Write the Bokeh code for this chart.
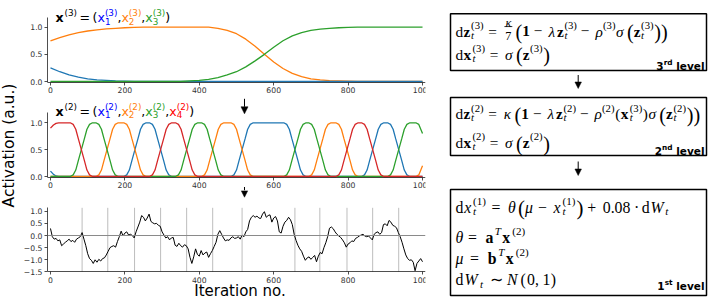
import math
from bokeh.plotting import figure
from bokeh.models import Range1d, Label, Arrow, NormalHead, Span, FixedTicker
from bokeh.layouts import row, column
from bokeh.embed import file_html
from bokeh.resources import INLINE

# ---------------- data ----------------
iterations_top = list(range(0, 1001, 25))
x3_1 = [0.25, 0.18, 0.12, 0.08, 0.05, 0.03, 0.02, 0.01, 0.005,
        0, 0, 0, 0, 0, 0, 0, 0, 0, 0, 0, 0, 0, 0, 0, 0,
        0, 0, 0, 0, 0, 0, 0, 0, 0, 0, 0, 0, 0, 0, 0, 0]
x3_2 = [0.75, 0.81, 0.86, 0.90, 0.93, 0.95, 0.97, 0.98, 0.99, 0.995,
        1, 1, 1, 1, 1, 1, 1, 1,
        0.98, 0.94, 0.88, 0.78, 0.65, 0.50, 0.36, 0.24, 0.15, 0.09, 0.05, 0.03, 0.015, 0.01, 0.005,
        0, 0, 0, 0, 0, 0, 0, 0]
x3_3 = [0, 0, 0, 0, 0, 0, 0, 0, 0, 0, 0, 0, 0, 0, 0,
        0.01, 0.02, 0.04, 0.07, 0.12, 0.18, 0.27, 0.38, 0.50, 0.63, 0.75, 0.84, 0.90, 0.94, 0.965, 0.98, 0.99, 0.995,
        1, 1, 1, 1, 1, 1, 1, 1]

blue_x = [0, 8, 15, 22,
          197, 205, 212, 219, 227, 235, 242, 249, 257, 266, 274, 281, 288, 296, 304, 311, 318, 326,
          485, 493, 500, 507, 515, 523, 530, 537, 545, 627, 635, 642, 649, 657, 665, 672, 679, 687,
          836, 844, 851, 858, 866, 874, 881, 888, 896, 906, 914, 921, 928, 936, 944, 951, 958, 966,
          1000]
blue_y = [0.1, 0.04, 0.01, 0.0,
          0.0, 0.03, 0.12, 0.3, 0.5, 0.7, 0.88, 0.97, 1.0, 1.0, 0.97, 0.88, 0.7, 0.5, 0.3, 0.12, 0.03, 0.0,
          0.0, 0.03, 0.12, 0.3, 0.5, 0.7, 0.88, 0.97, 1.0, 1.0, 0.97, 0.88, 0.7, 0.5, 0.3, 0.12, 0.03, 0.0,
          0.0, 0.03, 0.12, 0.3, 0.5, 0.7, 0.88, 0.97, 1.0, 1.0, 0.97, 0.88, 0.7, 0.5, 0.3, 0.12, 0.03, 0.0,
          0.0]
orange_x = [0, 122, 130, 137, 144, 152, 160, 167, 174, 182, 197, 205, 212, 219, 227, 235, 242, 249, 257,
            406, 414, 421, 428, 436, 444, 451, 458, 466, 485, 493, 500, 507, 515, 523, 530, 537, 545,
            694, 702, 709, 716, 724, 732, 739, 746, 754, 767, 775, 782, 789, 797, 805, 812, 819, 827,
            982, 990, 1000]
orange_y = [0.0, 0.0, 0.03, 0.12, 0.3, 0.5, 0.7, 0.88, 0.97, 1.0, 1.0, 0.97, 0.88, 0.7, 0.5, 0.3, 0.12, 0.03, 0.0,
            0.0, 0.03, 0.12, 0.3, 0.5, 0.7, 0.88, 0.97, 1.0, 1.0, 0.97, 0.88, 0.7, 0.5, 0.3, 0.12, 0.03, 0.0,
            0.0, 0.03, 0.12, 0.3, 0.5, 0.7, 0.88, 0.97, 1.0, 1.0, 0.97, 0.88, 0.7, 0.5, 0.3, 0.12, 0.03, 0.0,
            0.0, 0.03, 0.2]
green_x = [0, 53, 61, 68, 75, 83, 91, 98, 105, 113, 122, 130, 137, 144, 152, 160, 167, 174, 182,
           336, 344, 351, 358, 366, 374, 381, 388, 396, 406, 414, 421, 428, 436, 444, 451, 458, 466,
           627, 635, 642, 649, 657, 665, 672, 679, 687, 694, 702, 709, 716, 724, 732, 739, 746, 754,
           906, 914, 921, 928, 936, 944, 951, 958, 966, 982, 990, 1000]
green_y = [0.0, 0.0, 0.03, 0.12, 0.3, 0.5, 0.7, 0.88, 0.97, 1.0, 1.0, 0.97, 0.88, 0.7, 0.5, 0.3, 0.12, 0.03, 0.0,
           0.0, 0.03, 0.12, 0.3, 0.5, 0.7, 0.88, 0.97, 1.0, 1.0, 0.97, 0.88, 0.7, 0.5, 0.3, 0.12, 0.03, 0.0,
           0.0, 0.03, 0.12, 0.3, 0.5, 0.7, 0.88, 0.97, 1.0, 1.0, 0.97, 0.88, 0.7, 0.5, 0.3, 0.12, 0.03, 0.0,
           0.0, 0.03, 0.12, 0.3, 0.5, 0.7, 0.88, 0.97, 1.0, 1.0, 0.97, 0.8]
red_x = [0, 8, 15, 22, 53, 61, 68, 75, 83, 91, 98, 105, 113,
         266, 274, 281, 288, 296, 304, 311, 318, 326, 336, 344, 351, 358, 366, 374, 381, 388, 396,
         767, 775, 782, 789, 797, 805, 812, 819, 827, 836, 844, 851, 858, 866, 874, 881, 888, 896,
         1000]
red_y = [0.9, 0.96, 0.99, 1.0, 1.0, 0.97, 0.88, 0.7, 0.5, 0.3, 0.12, 0.03, 0.0,
         0.0, 0.03, 0.12, 0.3, 0.5, 0.7, 0.88, 0.97, 1.0, 1.0, 0.97, 0.88, 0.7, 0.5, 0.3, 0.12, 0.03, 0.0,
         0.0, 0.03, 0.12, 0.3, 0.5, 0.7, 0.88, 0.97, 1.0, 1.0, 0.97, 0.88, 0.7, 0.5, 0.3, 0.12, 0.03, 0.0,
         0.0]

iterations_walk = list(range(0, 1001, 5))
walk = [
    0.29, -0.05, -0.15, -0.12, -0.22, -0.18, -0.42, -0.35, -0.28, -0.22,
    -0.15, -0.25, -0.20, -0.28, -0.15, -0.10, -0.05, 0.12, -0.15, -0.42,
    -0.75, -0.95, -1.02, -1.15, -1.00, -1.10, -0.98, -1.05, -0.95, -0.92,
    -0.80, -0.65, -0.50, -0.45, -0.42, -0.48, -0.25, -0.05, 0.18, -0.02,
    0.10, 0.15, 0.02, 0.05, 0.00, -0.10, 0.15, 0.35, 0.55, 0.82,
    0.75, 0.60, 0.72, 0.88, 0.58, 0.52, 0.48, 0.50, 0.42, 0.38,
    0.15, 0.02, -0.10, -0.05, -0.18, -0.10, -0.08, -0.40, -0.45, -0.32,
    -0.42, -0.48, -0.38, -0.42, -0.55, -0.90, -1.15, -0.88, -0.55, -0.78,
    -0.85, -0.62, -0.80, -0.72, -0.68, -0.90, -0.75, -0.62, -0.45, -0.28,
    0.05, 0.20, 0.05, -0.10, -0.22, -0.18, -0.20, -0.10, -0.05, -0.12,
    -0.10, -0.05, -0.15, 0.02, -0.05, 0.15, 0.25, 0.60, 0.75, 0.82,
    0.75, 0.80, 0.72, 0.70, 0.88, 0.98, 0.75, 0.82, 0.85, 0.55,
    0.72, 0.78, 0.60, 0.15, 0.10, 0.38, 0.55, 0.62, 0.75, 0.65,
    0.45, 0.05, -0.20, -0.40, -0.55, -0.65, -0.85, -1.02, -0.92, -0.88,
    -0.98, -0.90, -0.82, -1.08, -0.85, -0.70, -0.75, -0.50, -0.30, -0.05,
    0.30, 0.35, 0.28, 0.15, 0.05, -0.02, -0.08, -0.18, -0.30, -0.48,
    -0.35, -0.30, -0.22, -0.25, -0.12, -0.08, -0.02, 0.02, 0.05, -0.02,
    -0.05, -0.02, -0.10, -0.18, 0.05, 0.12, 0.15, 0.05, 0.12, 0.45,
    0.48, 0.40, 0.62, 0.55, 0.42, 0.38, 0.32, 0.12, -0.05, -0.28,
    -0.55, -0.80, -0.95, -1.02, -1.00, -1.10, -1.45, -1.15, -1.05, -0.95,
    -1.08]
switch_iters = [85, 154, 226, 296, 366, 436, 515, 657, 724, 797, 866, 936]

x_ticks = [0, 200, 400, 600, 800, 1000]
y_ticks_act = [0.0, 0.5, 1.0]
y_labels_act = ["0.0", "0.5", "1.0"]
y_ticks_walk = [-1.5, -1.0, -0.5, 0.0, 0.5, 1.0]
y_labels_walk = ["\u22121.5", "\u22121.0", "\u22120.5", "0.0", "0.5", "1.0"]

assert len(x3_1) == len(x3_2) == len(x3_3) == len(iterations_top)
assert len(blue_x) == len(blue_y) and len(orange_x) == len(orange_y)
assert len(green_x) == len(green_y) and len(red_x) == len(red_y)
assert len(walk) == len(iterations_walk)

TAB_BLUE, TAB_ORANGE, TAB_GREEN, TAB_RED = "#1f77b4", "#ff7f0e", "#2ca02c", "#d62728"
T_BLUE, T_ORANGE, T_GREEN, T_RED = "#0000ff", "#ff7f0e", "#2ca02c", "#ff0000"

SANS = "DejaVu Sans"
SERIF = "Liberation Serif"


# ---------------- small typesetting helpers ----------------
def T(txt, adv, style="normal", color="black", scale=1.0, dy=0.0):
    return ("t", txt, adv, style, color, scale, dy)


def S(sup=None, sub=None, adv=0.9, color="black", sup_style="normal", sub_style="italic"):
    return ("s", sup, sub, adv, color, sup_style, sub_style)


def SP(em):
    return ("sp", em)


def F(num, den, adv):
    return ("f", num, den, adv)


BL = T("(", 0.46, scale=1.32, dy=-0.09)
BR = T(")", 0.46, scale=1.32, dy=-0.09)


def lab(fig, x, y, txt, size, font, style="normal", color="black", align="left",
        units="data", angle=0.0, baseline="alphabetic"):
    fig.add_layout(Label(x=x, y=y, x_units=units, y_units=units, text=txt,
                         text_font=font, text_font_size="%.2fpx" % size,
                         text_font_style=style, text_color=color,
                         text_align=align, text_baseline=baseline, angle=angle))


def typeset(fig, toks, x0, y0, s_adv, s_font, font, up, units, sup_dy, sub_dy, bars=None):
    x = x0
    for tk in toks:
        kind = tk[0]
        if kind == "sp":
            x += tk[1] * s_adv
        elif kind == "t":
            _, txt, adv, style, color, scale, dy = tk
            lab(fig, x, y0 + up * dy * s_font, txt, s_font * scale, font, style, color, units=units)
            x += adv * s_adv
        elif kind == "s":
            _, sup, sub, adv, color, sst, bst = tk
            if sup:
                lab(fig, x, y0 + up * sup_dy * s_font, sup, 0.7 * s_font, font, sst, color, units=units)
            if sub:
                lab(fig, x, y0 - up * sub_dy * s_font, sub, 0.7 * s_font, font, bst, color, units=units)
            x += adv * s_adv
        elif kind == "f":
            _, num, den, adv = tk
            cx = x + adv * s_adv / 2
            lab(fig, cx, y0 + up * 0.51 * s_font, num, 0.8 * s_font, font, "italic", align="center", units=units)
            lab(fig, cx, y0 - up * 0.30 * s_font, den, 0.8 * s_font, font, "normal", align="center", units=units)
            if bars is not None:
                bars.append((x + 0.05 * s_adv, x + (adv - 0.05) * s_adv, y0 + up * 0.29 * s_font))
            x += adv * s_adv
    return x


# ---------------- left panels ----------------
# each panel's frame fills its whole height; the axes are pinned to the data limits
XR = (-8, 1008)


def panel(h, yr_full, y_bounds, yticks, ylabels):
    p = figure(width=420, height=h, x_range=Range1d(*XR), y_range=Range1d(*yr_full),
               output_backend="svg", toolbar_location=None,
               min_border_left=27, min_border_right=15, min_border_top=0, min_border_bottom=0)
    p.outline_line_color = None
    p.grid.visible = False
    p.background_fill_color = "white"
    p.border_fill_color = "white"
    p.xaxis.ticker = FixedTicker(ticks=x_ticks)
    p.yaxis.ticker = FixedTicker(ticks=yticks)
    p.yaxis.major_label_overrides = {t: l for t, l in zip(yticks, ylabels)}
    p.xaxis.fixed_location = y_bounds[0]
    p.yaxis.bounds = y_bounds
    for ax in (p.xaxis[0], p.yaxis[0]):
        ax.axis_line_color = "#222222"
        ax.axis_line_width = 0.8
        ax.major_tick_line_color = "#222222"
        ax.major_tick_line_width = 0.8
        ax.major_tick_out = 3
        ax.major_tick_in = 0
        ax.minor_tick_line_color = None
        ax.major_label_text_font = SANS
        ax.major_label_text_font_size = "7.7px"
        ax.major_label_text_color = "#333333"
        ax.major_label_standoff = 2
    return p


Y1 = (-0.01, 1.17)
Y2 = (-0.01, 1.2)
Y3 = (-1.5, 1.14)
f1 = panel(96, (-0.2762, 1.4917), Y1, y_ticks_act, y_labels_act)
f2 = panel(94, (-0.2607, 1.4898), Y2, y_ticks_act, y_labels_act)
f3 = panel(109, (-2.6337, 1.8519), Y3, y_ticks_walk, y_labels_walk)

LW = 1.3
f1.line(iterations_top, x3_2, line_color=TAB_ORANGE, line_width=LW)
f1.line(iterations_top, x3_1, line_color=TAB_BLUE, line_width=LW)
f1.line(iterations_top, x3_3, line_color=TAB_GREEN, line_width=LW)

f2.line(blue_x, blue_y, line_color=TAB_BLUE, line_width=LW)
f2.line(orange_x, orange_y, line_color=TAB_ORANGE, line_width=LW)
f2.line(green_x, green_y, line_color=TAB_GREEN, line_width=LW)
f2.line(red_x, red_y, line_color=TAB_RED, line_width=LW)

f3.segment(x0=switch_iters, x1=switch_iters, y0=Y3[0], y1=Y3[1], line_color="#bdbdbd", line_width=1)
f3.add_layout(Span(location=0, dimension="width", line_color="#8a8a8a", line_width=1))
f3.line(iterations_walk, walk, line_color="black", line_width=1)


# titles of the two upper panels
def comp(color, idx, lvl):
    return [T("x", 0.592, color=color),
            S("(%d)" % lvl, str(idx), 0.99, color=color, sub_style="normal")]


title3 = ([T("x", 0.712, "bold"), S("(3)", None, 0.99), SP(0.2), T("=", 0.838), SP(0.2), T("(", 0.39)]
          + comp(T_BLUE, 1, 3) + [T(",", 0.318)] + comp(T_ORANGE, 2, 3) + [T(",", 0.318)]
          + comp(T_GREEN, 3, 3) + [T(")", 0.39)])
title2 = ([T("x", 0.712, "bold"), S("(2)", None, 0.99), SP(0.2), T("=", 0.838), SP(0.2), T("(", 0.39)]
          + comp(T_BLUE, 1, 2) + [T(",", 0.318)] + comp(T_ORANGE, 2, 2) + [T(",", 0.318)]
          + comp(T_GREEN, 3, 2) + [T(",", 0.318)] + comp(T_RED, 4, 2) + [T(")", 0.39)])
typeset(f1, title3, 8, 78.7, 12.6, 12.6, SANS, 1, "screen", 0.36, 0.27)
typeset(f2, title2, 8, 79.3, 12.6, 12.6, SANS, 1, "screen", 0.36, 0.27)

# down arrows between the panels
ARX = 521.5
HEAD = dict(fill_color="black", line_color="black", line_width=0.5)
f2.add_layout(Arrow(x_start=ARX, y_start=1.447, x_end=ARX, y_end=1.1676,
                    end=NormalHead(size=7, **HEAD), line_color="black", line_width=1))
f2.add_layout(Arrow(x_start=ARX, y_start=-0.1955, x_end=ARX, y_end=-0.2793, end=None,
                    line_color="black", line_width=1))
f3.add_layout(Arrow(x_start=ARX, y_start=1.893, x_end=ARX, y_end=1.576,
                    end=NormalHead(size=6.5, **HEAD), line_color="black", line_width=1))

lab(f3, 192.5, 9.0, "Iteration no.", 15.0, SANS, units="screen", align="center")

# y label strip
lf = figure(width=20, height=299, x_range=Range1d(0, 1), y_range=Range1d(0, 1),
            output_backend="svg", toolbar_location=None, min_border=0,
            x_axis_location=None, y_axis_location=None)
lf.outline_line_color = None
lf.grid.visible = False
lab(lf, 8, 154, "Activation (a.u.)", 15.5, SANS, units="screen", angle=math.pi / 2,
    align="center", baseline="middle")

# ---------------- right panel: model equations ----------------
pr = figure(width=268, height=299, x_range=Range1d(0, 268), y_range=Range1d(299, 0),
            output_backend="svg", toolbar_location=None, min_border=0,
            x_axis_location=None, y_axis_location=None)
pr.outline_line_color = None
pr.grid.visible = False

BOX_L, BOX_R = 10.0, 266.0
box_top = [13.3, 97.0, 189.0]
box_bot = [70.0, 155.0, 295.0]
pr.quad(left=BOX_L, right=BOX_R, top=box_top, bottom=box_bot,
        fill_color=None, line_color="black", line_width=1.5)
for (ya, yb) in [(74.5, 88.0), (161.0, 175.0)]:
    pr.add_layout(Arrow(x_start=137.7, y_start=ya, x_end=137.7, y_end=yb,
                        end=NormalHead(size=6.5, **HEAD), line_color="black", line_width=1))

MINUS = [SP(0.222), T("\u2212", 0.778), SP(0.222)]
EQ = [SP(0.278), T("=", 0.778), SP(0.278)]
b1l1 = ([T("d", 0.556), T("z", 0.511, "bold"), S("(3)", "t")] + EQ + [F("\u03ba", "7", 0.64), SP(0.17), BL,
        T("1", 0.575, "bold")] + MINUS + [T("\u03bb", 0.583, "italic"), T("z", 0.511, "bold"), S("(3)", "t")]
        + MINUS + [T("\u03c1", 0.517, "italic"), S("(3)"), T("\u03c3", 0.571, "italic"), SP(0.17), BL,
        T("z", 0.511, "bold"), S("(3)", "t"), BR, BR])
b1l2 = ([T("d", 0.556), T("x", 0.607, "bold"), S("(3)", "t")] + EQ +
        [T("\u03c3", 0.571, "italic"), SP(0.17), BL, T("z", 0.511, "bold"), S("(3)"), BR])
b2l1 = ([T("d", 0.556), T("z", 0.511, "bold"), S("(2)", "t")] + EQ + [T("\u03ba", 0.576, "italic"), SP(0.17), BL,
        T("1", 0.575, "bold")] + MINUS + [T("\u03bb", 0.583, "italic"), T("z", 0.511, "bold"), S("(2)", "t")]
        + MINUS + [T("\u03c1", 0.517, "italic"), S("(2)"), T("(", 0.389), T("x", 0.607, "bold"), S("(3)", "t"),
        T(")", 0.389), T("\u03c3", 0.571, "italic"), SP(0.17), BL, T("z", 0.511, "bold"), S("(2)", "t"), BR, BR])
b2l2 = ([T("d", 0.556), T("x", 0.607, "bold"), S("(2)", "t")] + EQ +
        [T("\u03c3", 0.571, "italic"), SP(0.17), BL, T("z", 0.511, "bold"), S("(2)"), BR])
b3l1 = ([T("d", 0.556), T("x", 0.572, "italic"), S("(1)", "t")] + EQ + [T("\u03b8", 0.469, "italic"), SP(0.17), BL,
        T("\u03bc", 0.603, "italic")] + MINUS + [T("x", 0.572, "italic"), S("(1)", "t"), BR, SP(0.222),
        T("+", 0.778), SP(0.222), T("0.08", 1.778), SP(0.222), T("\u00b7", 0.278), SP(0.222),
        T("d", 0.556), T("W", 0.944, "italic"), S(None, "t", 0.3)])
b3l2 = ([T("\u03b8", 0.469, "italic")] + EQ + [T("a", 0.559, "bold"), S("T", None, 0.45, sup_style="italic"),
        T("x", 0.607, "bold"), S("(2)")])
b3l3 = ([T("\u03bc", 0.603, "italic")] + EQ + [T("b", 0.639, "bold"), S("T", None, 0.45, sup_style="italic"),
        T("x", 0.607, "bold"), S("(2)")])
b3l4 = ([T("d", 0.556), T("W", 0.944, "italic"), S(None, "t", 0.3), SP(0.278), T("\u223c", 0.778), SP(0.278),
         T("N", 0.83, "italic"), T("(", 0.389), T("0", 0.5), T(",", 0.278), SP(0.17), T("1", 0.5), T(")", 0.389)])

X0 = 15.0
bars = []
# (tokens, baseline, advance size, glyph size)
eq_lines = [(b1l1, 30.5, 14.6, 15.3), (b1l2, 53.5, 14.6, 15.3),
            (b2l1, 113.3, 14.6, 15.3), (b2l2, 141.7, 14.6, 15.3),
            (b3l1, 206.5, 15.6, 15.8), (b3l2, 236.5, 16.6, 15.8),
            (b3l3, 257.7, 16.6, 15.8), (b3l4, 279.3, 16.4, 15.8)]
for toks, yb, sa, sf in eq_lines:
    typeset(pr, toks, X0, yb, sa, sf, SERIF, -1, "data", 0.38, 0.24, bars)
if bars:
    pr.segment(x0=[b[0] for b in bars], x1=[b[1] for b in bars], y0=[b[2] for b in bars],
               y1=[b[2] for b in bars], line_color="black", line_width=0.8)

SL = 10.5
for num, sup, sup_w, yb in [("3", "rd", 0.846, 65.7), ("2", "nd", 1.0, 150.7), ("1", "st", 0.751, 285.0)]:
    total = 0.696 + sup_w + 0.348 + 2.694
    xs = 264.0 - total * SL
    lab(pr, xs, yb, num, SL, SANS, "bold")
    lab(pr, xs + 0.696 * SL, yb - 0.33 * SL, sup, 0.7 * SL, SANS, "bold")
    lab(pr, xs + (0.696 + sup_w + 0.348) * SL, yb, "level", SL, SANS, "bold")

layout = row(lf, column(f1, f2, f3), pr)
open("out.html", "w").write(file_html(layout, INLINE))
